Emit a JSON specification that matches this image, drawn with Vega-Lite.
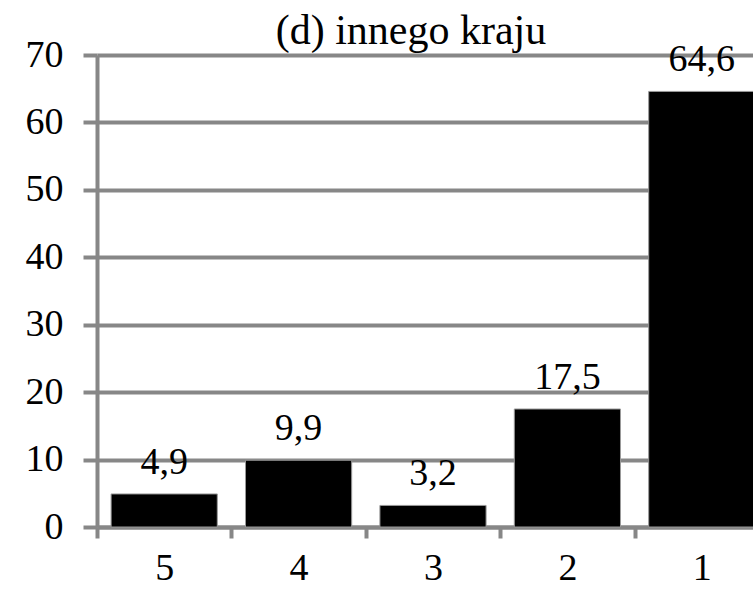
{
  "$schema": "https://vega.github.io/schema/vega-lite/v6.json",
  "autosize": {"type": "none"},
  "padding": {"left": 97, "top": 55, "right": 0, "bottom": 63},
  "width": 656,
  "height": 472,
  "background": "white",
  "title": {
    "text": "(d) innego kraju",
    "frame": "group",
    "orient": "top",
    "anchor": "middle",
    "dx": -14
  },
  "data": {
    "values": [
      {"cat": "5", "value": 4.9, "label": "4,9"},
      {"cat": "4", "value": 9.9, "label": "9,9"},
      {"cat": "3", "value": 3.2, "label": "3,2"},
      {"cat": "2", "value": 17.5, "label": "17,5"},
      {"cat": "1", "value": 64.6, "label": "64,6"}
    ]
  },
  "encoding": {
    "x": {
      "field": "cat",
      "type": "nominal",
      "sort": ["5", "4", "3", "2", "1"],
      "scale": {"range": [0, 672], "paddingInner": 0.21, "paddingOuter": 0.105},
      "axis": {
        "title": null,
        "labelAngle": 0,
        "labelFont": "Liberation Serif",
        "labelFontSize": 38,
        "labelColor": "black",
        "labelPadding": 11,
        "labelBaseline": "top",
        "tickOffset": -67.2,
        "labelOffset": 67.2,
        "tickSize": 11,
        "tickWidth": 4,
        "tickColor": "#878787",
        "domainColor": "#878787",
        "domainWidth": 4,
        "grid": false
      }
    },
    "y": {
      "field": "value",
      "type": "quantitative",
      "scale": {"domain": [0, 70], "nice": false},
      "axis": {
        "title": null,
        "values": [0, 10, 20, 30, 40, 50, 60, 70],
        "labelFont": "Liberation Serif",
        "labelFontSize": 38,
        "labelColor": "black",
        "labelPadding": 20,
        "tickSize": 14,
        "tickWidth": 4,
        "tickColor": "#878787",
        "domainColor": "#878787",
        "domainWidth": 4,
        "grid": true,
        "gridColor": "#878787",
        "gridWidth": 4,
        "gridOpacity": 1
      }
    }
  },
  "layer": [
    {"mark": {"type": "bar", "color": "black", "stroke": "#999999", "strokeWidth": 1}},
    {
      "mark": {
        "type": "text",
        "font": "Liberation Serif",
        "fontSize": 38,
        "color": "black",
        "baseline": "alphabetic",
        "dy": -20
      },
      "encoding": {"text": {"field": "label"}}
    }
  ],
  "config": {
    "view": {"stroke": null},
    "title": {
      "font": "Liberation Serif",
      "fontSize": 42,
      "fontWeight": "normal",
      "color": "black",
      "baseline": "alphabetic",
      "offset": -17
    }
  }
}
